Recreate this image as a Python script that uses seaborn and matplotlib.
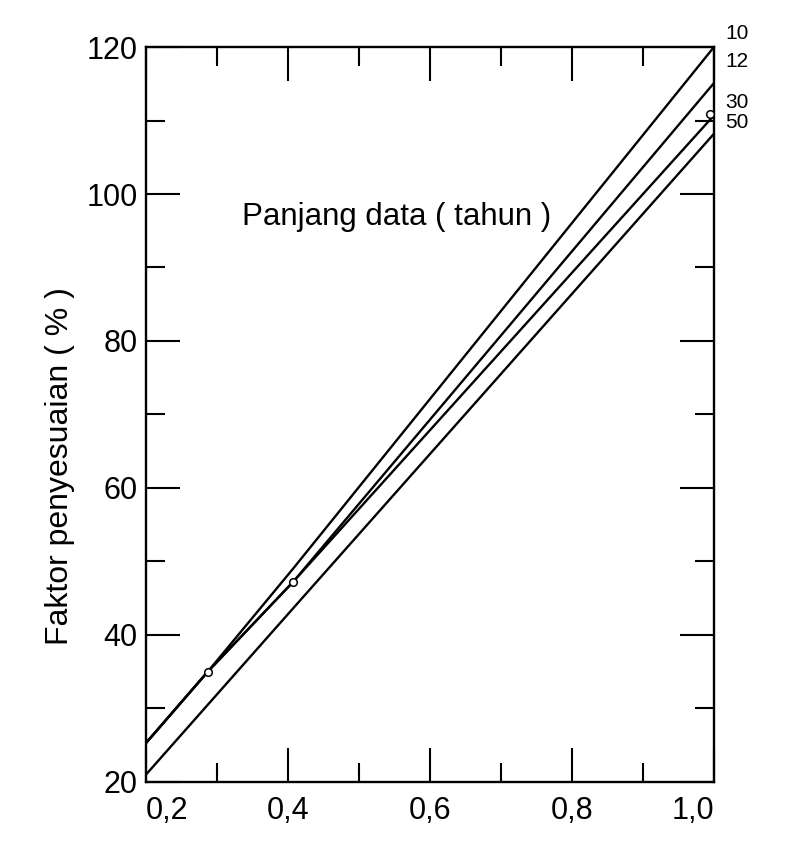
import matplotlib
matplotlib.use("Agg")
import matplotlib.pyplot as plt
import seaborn as sns
import pandas as pd

# ---- data ----
x_points = [0.2, 0.287, 0.407, 1.0]
y_10 = [25.3, 35.0, 49.0, 120.0]
y_12 = [25.3, 35.0, 47.2, 115.1]
y_30 = [25.3, 35.0, 47.2, 110.7]
y_50 = [21.0, 30.5, 43.6, 108.2]
series_names = ["10", "12", "30", "50"]

# little open circles where curves split
circle_x = [0.287, 0.407, 0.994]
circle_y = [35.0, 47.2, 110.9]

x_ticks_major = [0.2, 0.4, 0.6, 0.8, 1.0]
x_tick_labels = ["0,2", "0,4", "0,6", "0,8", "1,0"]
x_ticks_minor = [0.3, 0.5, 0.7, 0.9]
y_ticks_major = [20, 40, 60, 80, 100, 120]
y_ticks_minor = [30, 50, 70, 90, 110]

label_y = [121.8, 118.0, 112.5, 109.7]

df = pd.concat(
    [pd.DataFrame({"x": x_points, "y": ys, "series": name})
     for name, ys in zip(series_names, [y_10, y_12, y_30, y_50])],
    ignore_index=True,
)

sns.set_theme(style="ticks")
plt.rcParams["font.family"] = ["Liberation Sans", "DejaVu Sans"]

fig = plt.figure(figsize=(7.87, 8.41), dpi=100)
fig.patch.set_facecolor("white")
ax = fig.add_axes([0.1855, 0.0702, 0.7217, 0.8739])
ax.set_facecolor("white")

sns.lineplot(data=df, x="x", y="y", hue="series", palette=["black"] * 4,
             estimator=None, sort=False, legend=False, linewidth=1.7, ax=ax)
sns.scatterplot(x=circle_x, y=circle_y, s=30, facecolor="white",
                edgecolor="black", linewidth=1.1, zorder=5, ax=ax,
                clip_on=False)

ax.set_xlim(0.2, 1.0)
ax.set_ylim(20, 120)

ax.set_xticks(x_ticks_major)
ax.set_xticklabels(x_tick_labels)
ax.set_xticks(x_ticks_minor, minor=True)
ax.set_yticks(y_ticks_major)
ax.set_yticks(y_ticks_minor, minor=True)

for s in ax.spines.values():
    s.set_visible(True)
    s.set_linewidth(1.7)
    s.set_color("black")

ax.tick_params(which="major", direction="in", length=24.5, width=1.5,
               top=True, right=True, labelsize=22, color="black",
               labelcolor="black")
ax.tick_params(which="minor", direction="in", length=14, width=1.5,
               top=True, right=True, color="black")
ax.tick_params(axis="x", which="major", pad=10)
ax.tick_params(axis="y", which="major", pad=6)

xl = ax.get_xticklabels()
xl[0].set_ha("left")
xl[-1].set_ha("right")

ax.set_xlabel("")
ax.set_ylabel("Faktor penyesuaian ( % )", fontsize=23, color="black")
ax.yaxis.set_label_coords(-0.125, 0.43)

ax.text(0.553, 96.9, "Panjang data ( tahun )", fontsize=22.5,
        ha="center", va="center", color="black")

for name, yy in zip(series_names, label_y):
    ax.text(1.0155, yy, name, fontsize=15, ha="left", va="center",
            color="black", clip_on=False)

fig.savefig("out.png", dpi=100, facecolor="white")
